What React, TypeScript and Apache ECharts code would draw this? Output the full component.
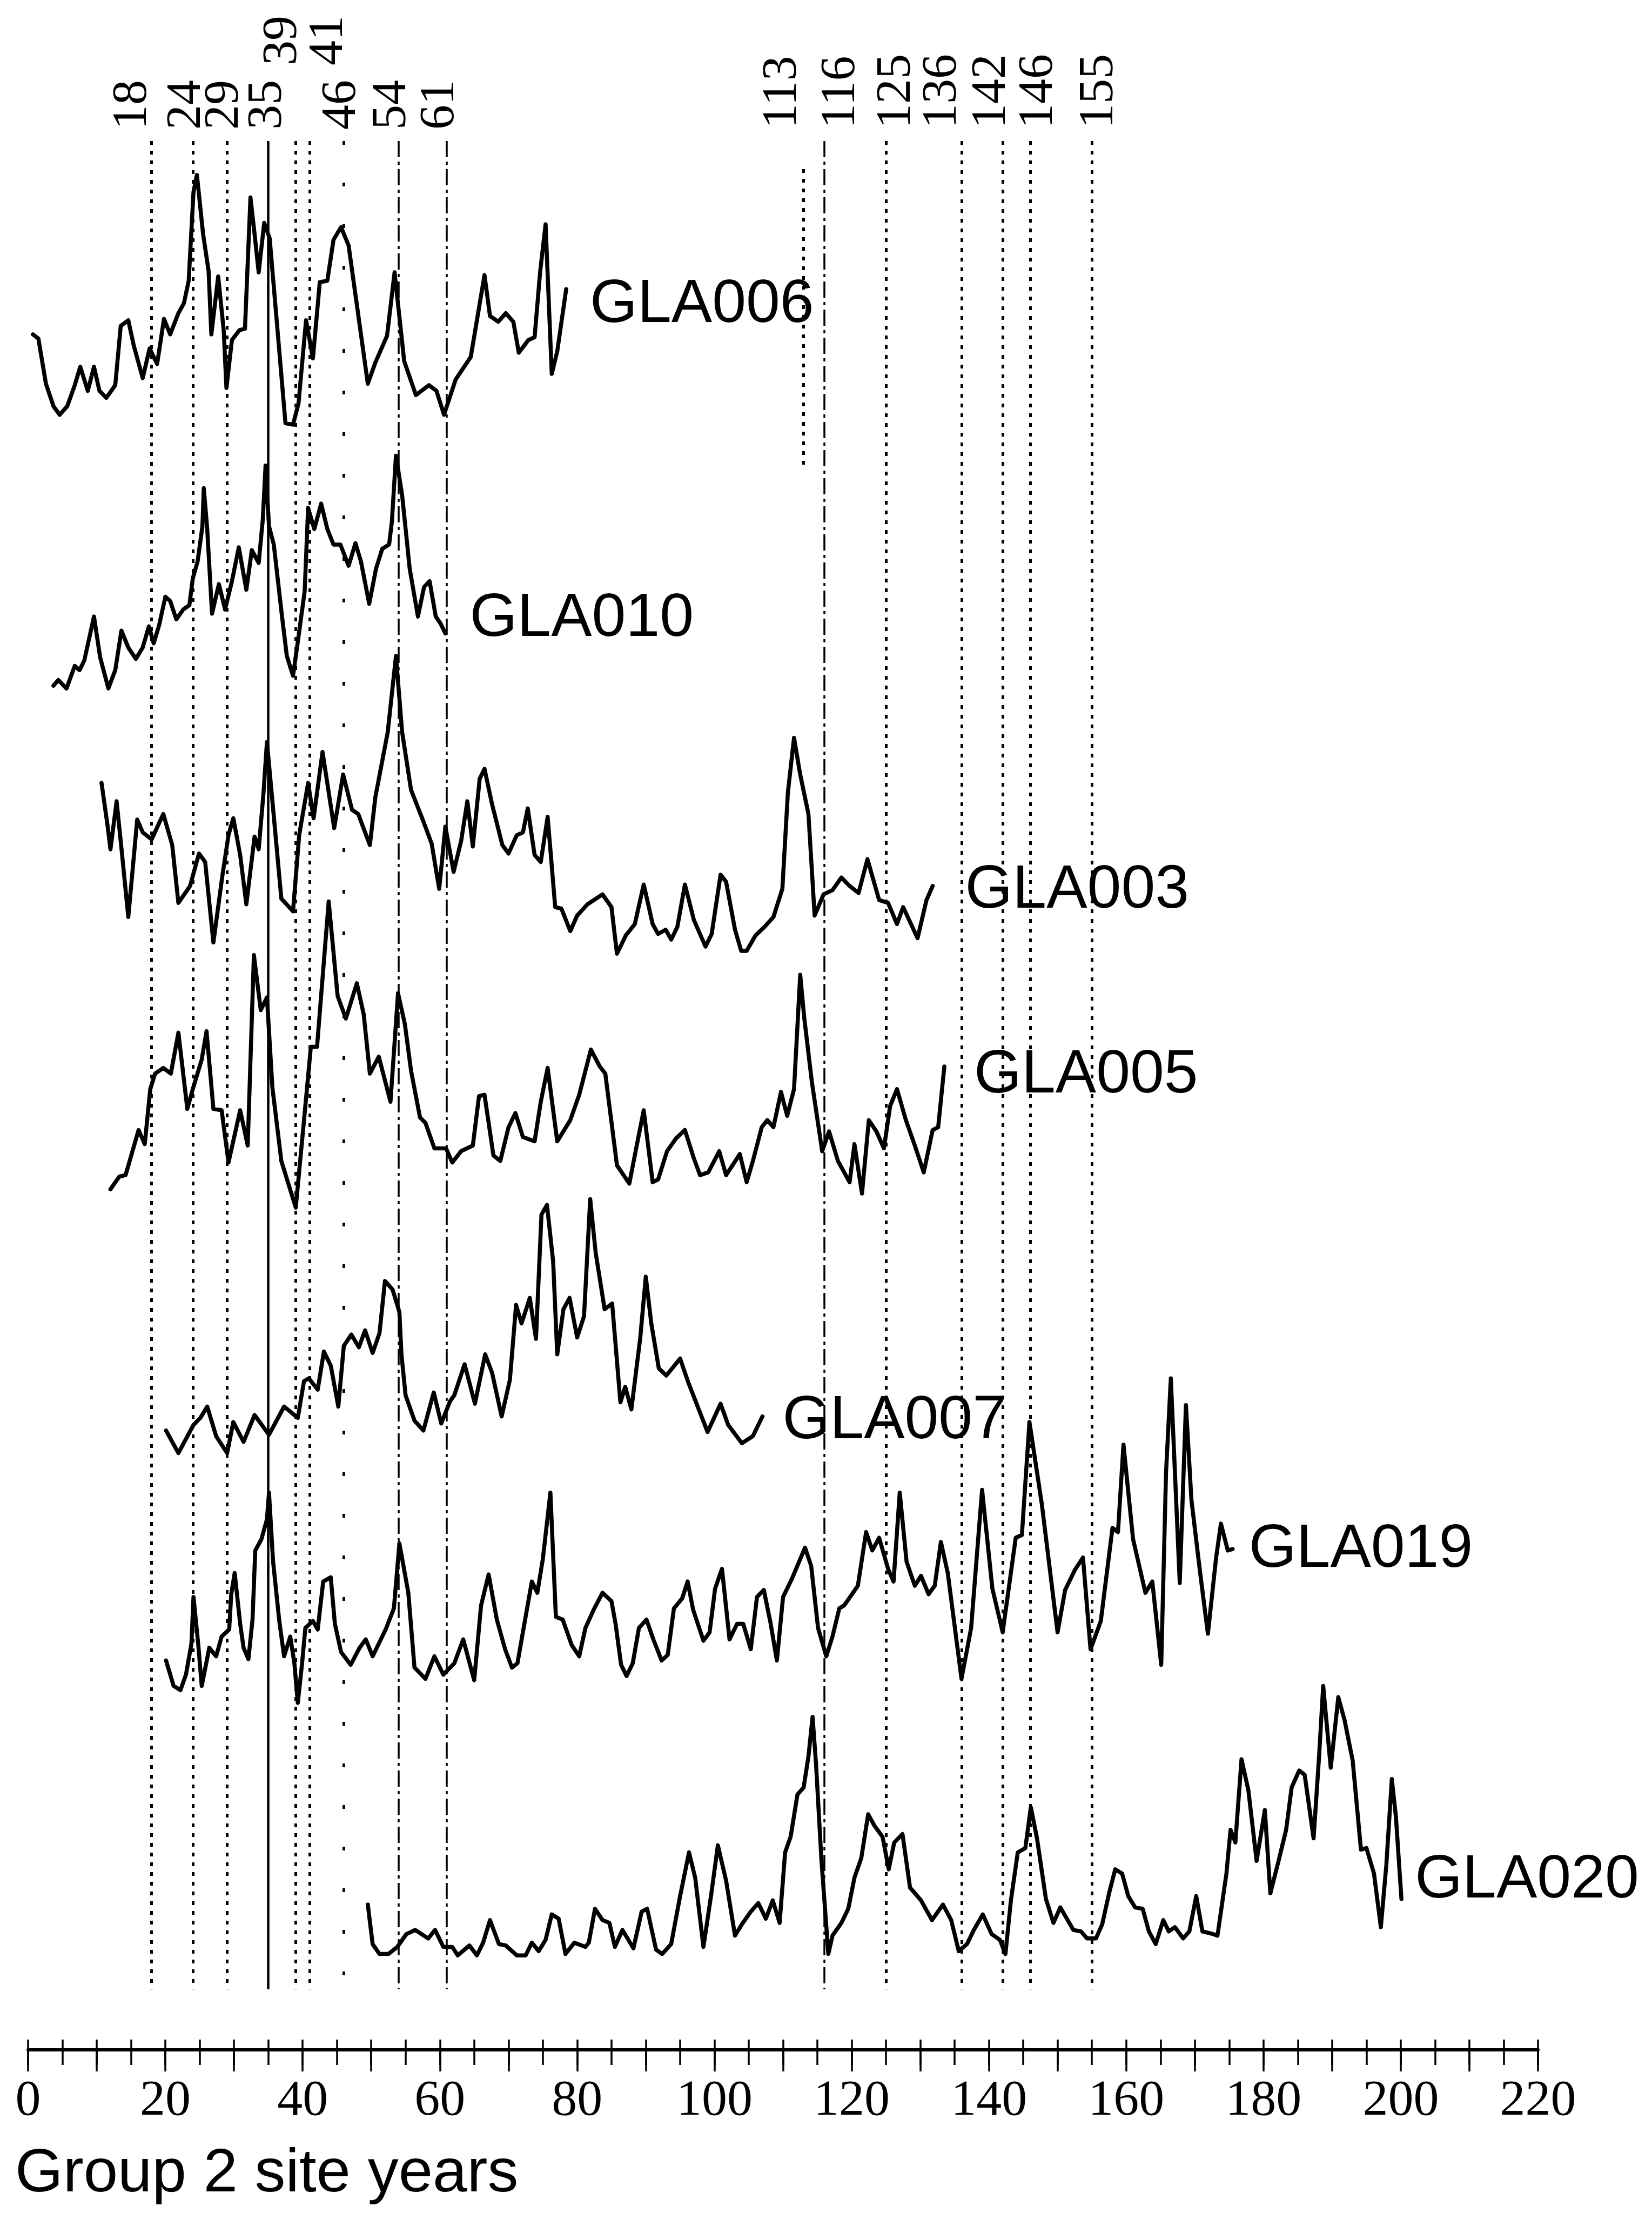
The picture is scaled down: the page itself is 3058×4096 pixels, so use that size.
import React, { useEffect, useRef } from "react";
import * as echarts from "echarts";

// ---------------- data ----------------
const yearMin = 0;
const yearMax = 220;
const tickStep = 5;
const labelStep = 20;
const xAxisTitle = "Group 2 site years";

const markerYears = [18, 24, 29, 35, 39, 41, 46, 54, 61, 113, 116, 125, 136, 142, 146, 155];

const seriesNames = ["GLA006", "GLA010", "GLA003", "GLA005", "GLA007", "GLA019", "GLA020"];

const gla006Years = [0.7,1.5,2.6,3.7,4.6,5.7,6.8,7.6,8.7,9.6,10.4,11.4,12.7,13.5,14.6,15.4,16.7,17.7,18.8,19.8,20.7,21.9,22.7,23.4,24.1,24.6,25.5,26.3,26.7,27.7,28.5,28.9,29.7,30.8,31.6,32.4,33.0,33.6,34.4,35.2,37.5,38.6,39.4,40.5,41.5,42.5,43.6,44.5,45.6,46.7,49.5,50.6,52.3,53.4,54.2,54.8,56.5,58.4,59.5,60.6,62.3,64.5,66.5,67.3,68.5,69.6,70.7,71.5,72.9,73.8,74.6,75.4,76.3,77.1,78.4];
const gla006Index = [73,70,38,22,16,22,37,50,33,50,33,28,37,79,83,65,42,63,52,84,73,88,95,111,174,186,144,118,73,114,76,35,69,76,77,170,144,117,152,141,10,9,24,83,56,110,111,140,149,136,38,53,72,117,81,54,30,37,33,16,41,57,115,86,82,88,82,60,69,71,117,151,45,61,105];

const gla010Years = [3.7,4.4,5.6,6.8,7.5,8.2,9.6,10.5,11.7,12.7,13.6,14.6,15.7,16.7,17.6,18.3,19.1,20.0,20.7,21.6,22.6,23.5,24.0,24.7,25.4,25.6,26.1,26.8,27.8,28.7,29.7,30.7,31.8,32.6,33.6,34.2,34.6,35.1,35.8,37.0,37.7,38.6,39.3,40.3,40.8,41.7,42.7,43.6,44.5,45.5,46.7,47.7,48.5,49.7,50.7,51.6,52.6,53.0,53.6,54.5,55.6,56.8,57.7,58.5,59.4,60.1,60.8];
const gla010Index = [14,18,12,28,25,32,63,34,12,25,53,41,33,41,56,44,57,77,74,61,68,71,90,102,127,154,125,65,86,68,88,112,82,110,101,132,170,127,114,63,35,21,45,81,140,125,143,125,114,114,99,115,102,72,97,111,114,130,177,149,97,63,84,88,63,58,51];

const gla003Years = [10.7,11.6,12.0,12.9,13.7,14.6,15.9,16.7,18.0,19.7,21.0,21.9,23.6,24.9,25.8,27.0,28.3,29.2,29.9,30.9,31.8,33.0,33.6,34.3,34.8,35.6,36.9,38.6,39.5,40.8,41.6,42.9,44.6,45.9,47.2,48.1,49.8,50.6,52.4,53.6,54.5,55.8,57.5,58.8,59.9,60.8,62.0,63.1,64.0,64.8,65.8,66.5,67.6,69.1,70.0,71.2,72.1,72.8,73.8,74.7,75.7,76.8,77.7,79.0,80.0,81.5,83.7,85.0,85.8,87.1,88.4,89.7,91.0,91.8,92.9,93.7,94.6,95.7,97.0,98.7,99.6,100.9,101.7,103.0,103.9,104.7,106.0,107.3,108.6,109.9,110.7,111.6,112.5,113.7,114.6,115.9,117.2,118.5,119.7,121.0,122.3,124.0,125.3,126.6,127.5,129.6,130.9,131.8];
const gla003Index = [135,104,88,122,84,40,109,100,95,113,91,50,62,85,79,22,69,98,110,84,49,97,88,128,164,122,53,44,98,135,110,157,103,141,116,113,91,125,171,225,171,130,109,92,60,104,72,94,122,90,138,145,120,91,85,98,100,117,84,79,111,47,46,30,41,49,56,47,14,27,35,63,35,28,31,24,33,63,38,19,28,70,65,31,16,16,27,33,40,60,128,167,141,113,41,56,59,68,62,57,81,52,50,35,47,25,52,62];

const gla005Years = [12.0,13.3,14.2,16.1,17.0,17.8,18.5,19.7,20.8,21.9,23.2,24.0,25.3,26.0,27.0,28.2,29.2,30.9,32.0,32.9,33.9,34.8,35.6,36.9,39.0,40.3,41.2,42.1,43.8,45.1,46.3,47.9,48.9,49.8,51.1,52.8,53.9,54.9,55.8,57.1,57.9,59.2,60.9,61.8,63.1,64.8,65.7,66.5,67.8,68.8,70.0,71.0,72.1,73.8,74.7,75.7,77.1,79.0,80.3,82.0,83.3,84.1,85.8,87.6,88.6,89.7,91.0,91.8,93.1,94.4,95.7,97.0,97.9,99.1,100.7,101.7,103.7,104.7,105.6,106.9,107.7,108.6,109.7,110.6,111.6,112.5,113.1,114.2,115.7,116.7,118.0,119.7,120.4,121.5,122.5,123.6,124.7,125.6,126.6,127.9,129.2,130.5,131.8,132.6,133.5];
const gla005Index = [27,36,37,69,59,98,109,113,109,138,84,98,119,139,84,83,46,83,58,193,154,163,99,47,14,81,128,128,231,164,148,173,151,109,121,89,166,144,111,78,74,56,56,46,54,58,93,94,51,47,71,81,64,61,89,113,61,76,94,126,114,109,44,31,56,83,32,34,54,63,69,49,37,39,54,37,52,32,47,71,76,71,96,79,98,179,148,103,54,68,47,32,59,24,76,68,56,86,98,76,58,39,69,71,114];

const gla007Years = [20.1,21.9,24.1,25.1,26.1,27.4,29.0,29.9,31.4,33.0,35.1,37.3,39.3,40.2,40.9,42.2,43.1,44.1,45.2,46.0,47.1,48.2,49.1,50.2,51.2,52.0,53.1,54.1,54.4,55.0,56.3,57.6,59.1,60.2,61.5,62.1,63.6,65.1,66.6,67.6,69.0,70.2,71.1,71.9,73.1,74.0,74.8,75.6,76.5,77.1,78.0,78.9,80.0,81.0,81.9,82.7,84.0,85.1,86.3,87.0,87.9,89.2,90.0,90.8,91.9,93.0,95.0,96.2,99.0,100.9,102.0,104.0,105.6,107.0];
const gla007Index = [31,15,35,40,48,27,15,37,23,42,28,48,40,66,68,60,87,77,48,91,99,90,102,86,100,137,131,115,85,56,38,31,58,36,52,56,78,50,85,72,41,67,120,107,125,96,184,191,151,85,117,125,97,112,195,157,117,121,51,62,46,97,140,107,75,70,82,65,30,50,35,22,27,41];

const gla019Years = [20.1,21.2,22.2,23.0,23.8,24.1,24.8,25.3,26.4,27.4,28.2,29.3,29.6,30.1,30.9,31.4,32.1,32.7,33.1,34.0,34.8,35.1,35.7,36.6,37.3,38.2,38.8,39.3,39.9,40.4,41.5,42.2,43.0,44.1,44.7,45.6,47.0,48.3,49.2,50.2,52.1,53.3,54.1,55.4,56.3,57.9,59.2,60.5,62.1,63.4,65.0,66.0,67.1,68.3,69.5,70.5,71.3,72.2,73.4,74.2,75.0,76.1,76.9,77.9,79.2,80.3,81.2,82.4,83.7,85.0,85.6,86.4,87.2,88.1,89.0,90.1,91.1,92.3,93.2,94.1,95.3,96.1,96.9,98.4,99.3,100.1,101.1,102.2,103.3,104.2,105.3,106.2,107.2,108.2,109.1,110.0,111.3,113.2,114.1,115.1,116.3,117.2,118.2,118.9,120.9,122.1,123.0,124.0,125.3,126.1,127.0,128.0,129.2,130.1,131.2,132.1,133.0,134.0,136.0,137.4,139.0,140.5,142.0,143.9,144.8,145.9,147.7,150.0,151.1,152.5,153.7,154.8,156.3,158.0,158.8,159.6,161.0,162.8,163.8,165.1,165.8,166.5,167.8,168.7,169.5,170.7,171.9,173.1,173.8,174.8,175.5];
const gla019Index = [43,25,22,33,55,88,54,25,52,46,60,65,90,105,69,52,44,72,121,129,143,162,113,71,46,60,41,13,40,66,71,65,99,102,69,49,40,52,58,46,65,80,126,91,38,30,46,33,41,58,29,82,104,72,51,38,41,66,99,91,115,162,74,72,54,46,66,79,91,85,69,40,32,41,66,72,58,43,47,80,87,99,79,57,63,94,108,58,69,69,51,88,93,69,43,88,101,123,110,66,46,60,80,82,96,134,121,130,108,99,162,113,96,103,90,96,127,105,30,66,164,94,63,130,132,212,154,63,93,107,116,51,71,137,134,196,129,91,99,40,176,243,98,224,157,108,62,116,140,121,122];

const gla020Years = [49.5,50.2,51.2,52.5,53.8,55.1,56.4,58.3,59.3,60.5,61.8,62.6,64.3,65.4,66.3,67.3,68.6,69.6,71.2,72.5,73.4,74.4,75.4,76.3,77.3,78.3,79.6,81.2,81.7,82.6,83.7,84.7,85.5,86.6,88.2,89.4,90.2,91.5,92.4,93.7,95.0,96.3,97.2,98.4,99.5,100.5,101.7,103.0,104.0,105.3,106.4,107.5,108.5,109.5,110.3,111.1,112.1,113.0,113.7,114.3,114.8,115.6,116.6,117.2,118.5,119.5,120.4,121.4,122.4,123.3,124.5,125.4,126.2,127.4,128.5,130.1,131.7,133.3,134.5,135.6,136.8,137.8,139.1,140.4,141.6,142.4,143.2,144.2,145.3,146.1,147.0,148.3,149.4,150.4,152.3,153.4,154.3,155.6,156.5,157.5,158.4,159.4,160.3,161.3,162.4,163.3,164.3,165.4,166.2,167.1,168.3,169.2,170.2,171.1,172.7,173.3,174.6,175.2,175.9,176.8,177.8,179.0,180.2,181.0,182.2,183.3,184.1,185.2,186.0,187.3,188.1,188.7,189.8,190.9,191.8,193.0,194.2,195.0,196.1,197.1,197.9,198.7,199.3,200.1];
const gla020Index = [50,22,15,15,20,29,32,26,32,20,20,14,21,14,23,39,22,21,14,14,23,17,25,43,40,15,23,20,23,47,39,37,20,32,19,45,47,18,15,22,56,87,69,20,56,92,67,28,36,45,51,40,53,37,87,98,128,133,155,183,150,81,15,28,37,47,69,83,114,106,98,75,94,100,62,53,39,50,39,17,22,32,43,29,25,15,53,87,90,119,97,54,37,48,32,31,26,26,36,58,75,72,56,48,47,31,22,39,31,34,26,31,56,31,29,28,72,103,94,153,131,81,117,58,81,103,133,145,142,97,155,205,147,197,181,152,89,90,72,34,78,139,112,54];

const seriesYears = [gla006Years, gla010Years, gla003Years, gla005Years, gla007Years, gla019Years, gla020Years];
const seriesIndex = [gla006Index, gla010Index, gla003Index, gla005Index, gla007Index, gla019Index, gla020Index];

// ---------------- layout & styles ----------------
const W = 3058;
const H = 4096;
const PLOT_LEFT = 52;
const PLOT_WIDTH = 2795;
const AXIS_Y = 3794;
const MARK_TOP_PX = 261;
const MARK_BOTTOM_PX = 3682;
const BAND_BOTTOMS = [809.5, 1305.6, 1801.7, 2271.7, 2728.7, 3185.7, 3655.7];
const INDEX_MAX = 250;
const BAND_HEIGHT = 652.8;
const SERIES_WIDTH = 7.5;

// where each marker label sits (axis units) and its bottom (px)
const markerLabelAt = [14.7, 22.6, 28.1, 34.4, 36.6, 43.3, 45.2, 52.5, 59.5, 109.4, 117.9, 126, 132.7, 139.9, 146.7, 155.5];
const markerLabelBottom = [240, 240, 240, 240, 121, 121, 240, 240, 240, 238, 238, 238, 238, 238, 238, 238];
// line style kind per marker
const markerKind = ["dot", "dot", "dot", "solid", "dot", "dot", "sparse", "dashdot", "dashdot", "dot", "dashdot", "dot", "dot", "dot", "dot", "dot"];
// pixel spans for partial marker lines
const markerSpan: Record<number, [number, number]> = { 113: [313, 862] };

// series name offsets from last point (px)
const nameOffsets = [[44, 22], [45, -34], [60, 1], [55, 9], [37, 1], [30, -6], [25, -42]];

const SERIF = "'Liberation Serif', 'Times New Roman', serif";
const SANS = "'Liberation Sans', Arial, Helvetica, sans-serif";

function markerLineStyle(kind: string) {
  if (kind === "solid") return { color: "#000", width: 4.5, type: "solid" };
  if (kind === "dashdot") return { color: "#000", width: 3.5, type: [30, 8, 6, 8] };
  if (kind === "sparse") return { color: "#000", width: 5, type: [7, 70] };
  return { color: "#000", width: 5, type: [7, 11] };
}

function pxToMasterY(px: number) {
  return (AXIS_Y - px) / (AXIS_Y - MARK_TOP_PX);
}

function buildOption() {
  const grids: any[] = [
    { left: PLOT_LEFT, width: PLOT_WIDTH, top: MARK_TOP_PX, height: AXIS_Y - MARK_TOP_PX },
  ];
  BAND_BOTTOMS.forEach((b) => {
    grids.push({ left: PLOT_LEFT, width: PLOT_WIDTH, top: b - BAND_HEIGHT, height: BAND_HEIGHT });
  });

  const tickLine = { color: "#000", width: 3.5 };
  const xAxes: any[] = [
    {
      gridIndex: 0, type: "value", min: yearMin, max: yearMax, interval: tickStep, position: "bottom",
      axisLine: { show: true, onZero: false, lineStyle: { color: "#000", width: 6 } },
      axisTick: { show: true, length: 28, lineStyle: tickLine },
      axisLabel: {
        show: true, margin: 41, fontFamily: SERIF, fontSize: 94, color: "#000",
        formatter: (v: number) => (v % labelStep === 0 ? String(v) : ""),
      },
      splitLine: { show: false },
    },
    {
      gridIndex: 0, type: "value", min: yearMin, max: yearMax, interval: tickStep * 2, position: "bottom",
      axisLine: { show: false, onZero: false },
      axisTick: { show: true, length: 40, lineStyle: tickLine },
      axisLabel: { show: false }, splitLine: { show: false },
    },
    {
      gridIndex: 0, type: "value", min: yearMin, max: yearMax, interval: tickStep, position: "bottom",
      axisLine: { show: false, onZero: false },
      axisTick: { show: true, inside: true, length: 19, lineStyle: tickLine },
      axisLabel: { show: false }, splitLine: { show: false },
    },
  ];
  const yAxes: any[] = [{ gridIndex: 0, type: "value", min: 0, max: 1, show: false }];
  BAND_BOTTOMS.forEach((_, i) => {
    xAxes.push({ gridIndex: i + 1, type: "value", min: yearMin, max: yearMax, show: false });
    yAxes.push({ gridIndex: i + 1, type: "value", min: 0, max: INDEX_MAX, show: false });
  });

  const markData = markerYears.map((yr, i) => {
    const span = markerSpan[yr] || [MARK_TOP_PX, MARK_BOTTOM_PX];
    return [
      { coord: [yr, pxToMasterY(span[0])], lineStyle: markerLineStyle(markerKind[i]) },
      { coord: [yr, pxToMasterY(span[1])] },
    ];
  });

  const series: any[] = [
    {
      type: "line", xAxisIndex: 0, yAxisIndex: 0, data: [[0, 0]], symbol: "none",
      lineStyle: { opacity: 0, width: 0 }, silent: true,
      markLine: { symbol: ["none", "none"], silent: true, label: { show: false }, animation: false, data: markData },
    },
  ];
  seriesNames.forEach((name, i) => {
    series.push({
      type: "line", name, xAxisIndex: i + 3, yAxisIndex: i + 1,
      data: seriesYears[i].map((yr, k) => [yr, seriesIndex[i][k]]),
      symbol: "none", smooth: false, silent: true,
      lineStyle: { color: "#000", width: SERIES_WIDTH, join: "round", cap: "round" },
    });
  });

  return {
    animation: false,
    backgroundColor: "#fff",
    grid: grids,
    xAxis: xAxes,
    yAxis: yAxes,
    series,
  };
}

export default function App() {
  const ref = useRef<HTMLDivElement>(null);
  useEffect(() => {
    if (!ref.current) return;
    const chart = echarts.init(ref.current, null, { renderer: "svg", width: W, height: H });
    chart.setOption(buildOption());

    const graphics: any[] = [];
    markerYears.forEach((yr, i) => {
      const x = chart.convertToPixel({ xAxisIndex: 0 }, markerLabelAt[i]) as number;
      graphics.push({
        type: "text", x, y: markerLabelBottom[i], rotation: Math.PI / 2, silent: true,
        style: { text: String(yr), fontFamily: SERIF, fontSize: 92, fill: "#000", align: "left", verticalAlign: "middle" },
      });
    });
    seriesNames.forEach((name, i) => {
      const n = seriesYears[i].length;
      const p = chart.convertToPixel({ seriesIndex: i + 1 }, [seriesYears[i][n - 1], seriesIndex[i][n - 1]]) as number[];
      graphics.push({
        type: "text", x: p[0] + nameOffsets[i][0], y: p[1] + nameOffsets[i][1], silent: true,
        style: { text: name, fontFamily: SANS, fontSize: 113, fill: "#000", align: "left", verticalAlign: "middle" },
      });
    });
    graphics.push({
      type: "text", x: 28, y: 4016, silent: true,
      style: { text: xAxisTitle, fontFamily: SANS, fontSize: 114, fill: "#000", align: "left", verticalAlign: "middle" },
    });
    chart.setOption({ graphic: graphics });

    return () => chart.dispose();
  }, []);
  return (
    <div
      ref={ref}
      style={{ position: "absolute", left: 0, top: 0, width: W, height: H, background: "#fff" }}
    />
  );
}
